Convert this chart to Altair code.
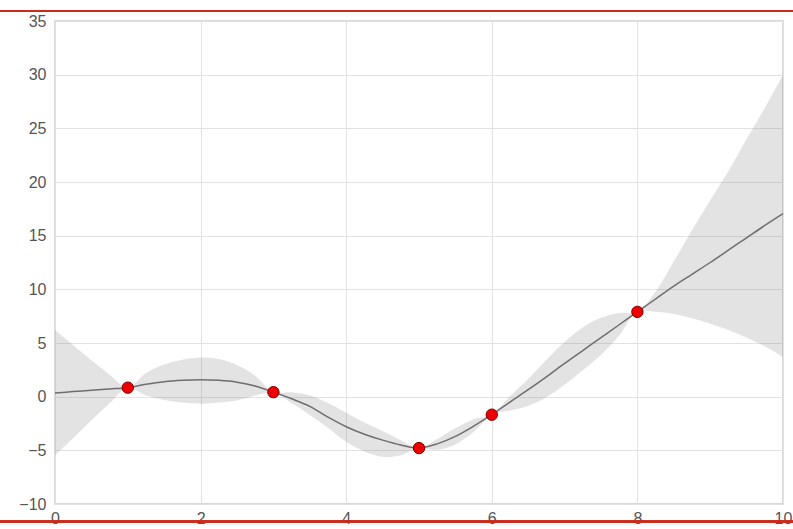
import altair as alt
import pandas as pd

# Observations
obs_x = [1, 3, 5, 6, 8]
obs_y = [0.84, 0.42, -4.79, -1.68, 7.9]

# Predicted mean and confidence band on a 0.25 grid
grid_x = [0, 0.25, 0.5, 0.75, 1, 1.25, 1.5, 1.75, 2, 2.25, 2.5, 2.75, 3,
          3.25, 3.5, 3.75, 4, 4.25, 4.5, 4.75, 5, 5.25, 5.5, 5.75, 6,
          6.25, 6.5, 6.75, 7, 7.25, 7.5, 7.75, 8, 8.25, 8.5, 8.75, 9,
          9.25, 9.5, 9.75, 10]
mean_y = [0.35, 0.47, 0.6, 0.72, 0.84, 1.15, 1.39, 1.52, 1.58, 1.52, 1.35, 1.0, 0.42,
          -0.2, -0.9, -1.9, -2.8, -3.5, -4.05, -4.5, -4.79, -4.4, -3.7, -2.75, -1.68,
          -0.5, 0.65, 1.85, 3.1, 4.3, 5.5, 6.7, 7.9, 9.1, 10.3, 11.4, 12.5,
          13.65, 14.8, 15.95, 17.05]
upper_y = [6.2, 4.8, 3.4, 2.05, 0.84, 2.2, 3.0, 3.45, 3.65, 3.5, 2.95, 1.95, 0.42,
           0.4, 0.1, -0.6, -1.5, -2.4, -3.2, -4.05, -4.79, -3.95, -2.95, -2.1, -1.68,
           0.05, 1.65, 3.45, 5.1, 6.45, 7.35, 7.8, 7.9, 9.8, 12.6, 15.5, 18.3,
           21.0, 24.0, 26.9, 30.0]
lower_y = [-5.5, -3.86, -2.2, -0.61, 0.84, 0.1, -0.3, -0.55, -0.65, -0.55, -0.35, 0.1, 0.42,
           -0.6, -1.7, -2.9, -4.2, -5.1, -5.6, -5.45, -4.79, -4.95, -4.45, -3.3, -1.68,
           -1.3, -0.85, -0.05, 1.1, 2.45, 3.9, 5.7, 7.9, 7.9, 7.7, 7.3, 6.8,
           6.2, 5.5, 4.7, 3.7]

x_ticks = [0, 2, 4, 6, 8, 10]
y_ticks = [-10, -5, 0, 5, 10, 15, 20, 25, 30, 35]

pred = pd.DataFrame({"x": grid_x, "mean": mean_y, "upper": upper_y, "lower": lower_y})
pts = pd.DataFrame({"x": obs_x, "y": obs_y})

xs = alt.Scale(domain=[0, 10], nice=False, zero=False)
ys = alt.Scale(domain=[-10, 35], nice=False, zero=False)

x_axis = alt.Axis(values=x_ticks, format="d", title=None, ticks=False, domain=False,
                  labelPadding=6, labelFlush=False, labelOverlap=False)
y_axis = alt.Axis(values=y_ticks, format="d", title=None, ticks=False, domain=False,
                  labelPadding=9, labelFlush=False, labelOverlap=False)

band = alt.Chart(pred).mark_area(
    color="#808080", opacity=0.22, interpolate="catmull-rom"
).encode(
    x=alt.X("x:Q", scale=xs, axis=x_axis),
    y=alt.Y("lower:Q", scale=ys, axis=y_axis),
    y2="upper:Q",
)

mean_line = alt.Chart(pred).mark_line(
    color="#6e6e6e", strokeWidth=1.5, interpolate="catmull-rom"
).encode(x=alt.X("x:Q", scale=xs), y=alt.Y("mean:Q", scale=ys))

points = alt.Chart(pts).mark_point(
    filled=True, fill="#ee0000", stroke="#7a0000", strokeWidth=1,
    size=130, opacity=1, shape="circle"
).encode(x=alt.X("x:Q", scale=xs), y=alt.Y("y:Q", scale=ys))

# Thin red frame lines across the figure
top_rule = alt.Chart(pts).mark_rule(color="#cc2a1a", strokeWidth=2).encode(
    x=alt.value(-55), x2=alt.value(738), y=alt.value(-10)
)
bottom_rule = alt.Chart(pts).mark_rule(color="#cc2a1a", strokeWidth=2).encode(
    x=alt.value(-55), x2=alt.value(738), y=alt.value(500.5)
)

chart = alt.layer(band, mean_line, points, top_rule, bottom_rule).properties(
    width=728, height=483,
    autosize=alt.AutoSizeParams(type="none"),
    padding={"left": 55, "top": 21, "right": 10, "bottom": 25},
    background="white",
).configure_view(
    stroke="#cccccc", strokeWidth=1.5
).configure_axis(
    grid=True, gridColor="#e2e2e2", gridWidth=1,
    labelFont="Liberation Sans", labelFontSize=16, labelColor="#555555",
)

chart.save("out.html", embed_options={"renderer": "svg", "actions": False})
